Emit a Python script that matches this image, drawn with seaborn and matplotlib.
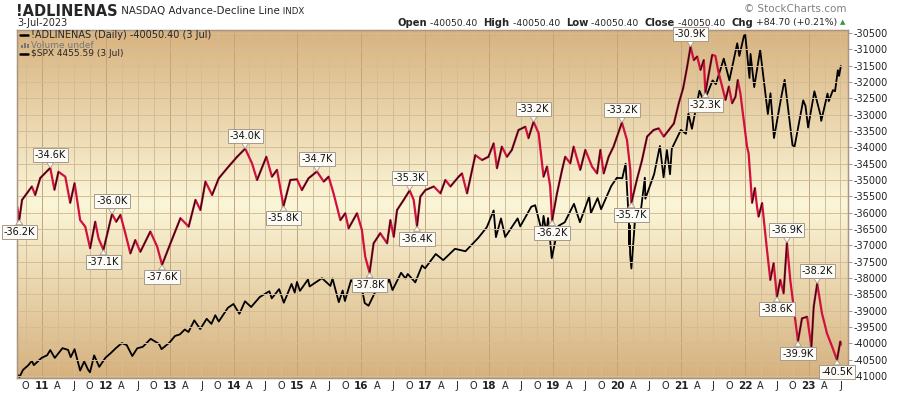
import numpy as np
import pandas as pd
import matplotlib
matplotlib.use('Agg')
import matplotlib.pyplot as plt
from matplotlib.colors import LinearSegmentedColormap
from matplotlib.lines import Line2D
from matplotlib.patches import Rectangle
import seaborn as sns

# ============================================================
# DATA
# ============================================================
adl_dates = [
    '2010-08-13', '2010-08-25', '2010-09-10', '2010-11-05', '2010-11-24', '2010-12-23',
    '2011-02-18', '2011-03-14', '2011-04-06', '2011-05-15', '2011-06-12', '2011-07-07',
    '2011-08-08', '2011-09-06', '2011-10-04', '2011-11-02', '2011-11-21', '2011-12-19',
    '2012-02-06', '2012-03-01', '2012-03-25', '2012-04-22', '2012-05-21', '2012-06-18',
    '2012-07-17', '2012-09-12', '2012-10-21', '2012-11-18', '2013-01-05', '2013-03-03',
    '2013-04-19', '2013-05-28', '2013-06-25', '2013-07-24', '2013-08-31', '2013-10-08',
    '2013-12-03', '2014-01-21', '2014-03-08', '2014-04-16', '2014-05-15', '2014-07-07',
    '2014-08-08', '2014-09-06', '2014-10-13', '2014-11-21', '2014-12-29', '2015-01-26',
    '2015-03-05', '2015-04-22', '2015-05-31', '2015-06-28', '2015-07-26', '2015-09-03',
    '2015-10-01', '2015-10-20', '2015-12-07', '2016-01-04', '2016-01-23', '2016-02-17',
    '2016-03-11', '2016-04-18', '2016-05-27', '2016-06-15', '2016-07-04', '2016-07-23',
    '2016-08-30', '2016-10-03', '2016-10-26', '2016-11-14', '2016-12-03', '2017-01-01',
    '2017-02-18', '2017-03-28', '2017-04-25', '2017-05-24', '2017-07-10', '2017-07-29',
    '2017-08-27', '2017-10-13', '2017-11-21', '2017-12-27', '2018-01-26', '2018-02-14',
    '2018-03-14', '2018-04-12', '2018-05-10', '2018-06-17', '2018-07-26', '2018-08-13',
    '2018-09-11', '2018-10-10', '2018-11-07', '2018-11-27', '2018-12-15', '2018-12-26',
    '2019-01-23', '2019-02-21', '2019-03-11', '2019-04-09', '2019-04-28', '2019-06-05',
    '2019-07-04', '2019-08-11', '2019-09-09', '2019-09-28', '2019-10-17', '2019-11-14',
    '2019-12-12', '2020-01-01', '2020-01-29', '2020-02-27', '2020-03-17', '2020-03-23',
    '2020-04-23', '2020-05-23', '2020-06-21', '2020-07-28', '2020-08-26', '2020-09-24',
    '2020-10-23', '2020-11-21', '2020-12-19', '2021-01-13', '2021-02-05', '2021-02-24',
    '2021-03-15', '2021-04-03', '2021-04-22', '2021-05-11', '2021-05-20', '2021-06-28',
    '2021-07-16', '2021-08-04', '2021-08-24', '2021-09-12', '2021-10-01', '2021-10-20',
    '2021-11-08', '2021-11-21', '2021-12-06', '2021-12-25', '2022-01-13', '2022-01-22',
    '2022-02-11', '2022-02-27', '2022-03-11', '2022-03-20', '2022-04-09', '2022-05-07',
    '2022-05-26', '2022-06-14', '2022-07-03', '2022-07-22', '2022-08-10', '2022-08-29',
    '2022-09-17', '2022-10-06', '2022-10-31', '2022-11-23', '2022-12-22', '2023-01-16',
    '2023-01-29', '2023-02-18', '2023-03-17', '2023-04-15', '2023-05-14', '2023-06-11',
    '2023-06-30', '2023-07-03',
]
adl_values = [
    -35820, -36220, -35610, -35200, -35460, -34940,
    -34630, -35300, -34750, -34900, -35700, -35100,
    -36230, -36430, -37090, -36280, -36790, -37140,
    -36040, -36280, -36070, -36630, -37250, -36840,
    -37200, -36580, -37040, -37600, -36940, -36170,
    -36430, -35610, -35920, -35050, -35460, -34950,
    -34590, -34290, -34040, -34490, -35000, -34290,
    -34900, -34690, -35800, -35000, -34980, -35310,
    -34950, -34740, -35050, -34900, -35410, -36230,
    -36020, -36480, -36020, -36530, -37350, -37840,
    -36940, -36630, -36940, -36230, -36740, -35920,
    -35610, -35320, -35610, -36420, -35510, -35310,
    -35200, -35410, -35000, -35200, -34900, -34800,
    -35410, -34240, -34390, -34290, -33880, -34640,
    -33980, -34290, -34080, -33470, -33370, -33720,
    -33220, -33570, -34900, -34590, -35200, -36240,
    -35410, -34690, -34290, -34490, -33980, -34690,
    -34080, -34590, -34800, -34080, -34800, -34290,
    -33980, -33670, -33240, -33780, -34690, -35700,
    -35000, -34390, -33670, -33470, -33420, -33670,
    -33470, -33270, -32650, -32190, -31530, -30920,
    -31330, -31220, -31630, -31330, -32330, -31170,
    -31200, -31730, -32140, -32550, -32140, -32650,
    -32450, -31940, -32350, -33160, -33980, -34180,
    -35700, -35250, -35820, -36120, -35710, -37140,
    -38060, -37550, -38580, -38060, -38470, -36920,
    -38060, -38880, -39940, -39240, -39190, -40100,
    -38880, -38170, -39080, -39700, -40100, -40510,
    -39950, -40050.40,
]

spx_dates = [
    '2010-08-13', '2010-08-26', '2010-09-15', '2010-10-15', '2010-11-05', '2010-11-16',
    '2010-12-31', '2011-01-31', '2011-02-18', '2011-03-16', '2011-04-29', '2011-05-31',
    '2011-06-15', '2011-07-07', '2011-08-08', '2011-08-31', '2011-09-22', '2011-10-03',
    '2011-10-27', '2011-11-25', '2011-12-30', '2012-01-31', '2012-02-29', '2012-04-02',
    '2012-04-30', '2012-06-01', '2012-06-29', '2012-07-31', '2012-09-14', '2012-10-31',
    '2012-11-15', '2012-12-31', '2013-01-31', '2013-02-28', '2013-03-28', '2013-04-18',
    '2013-05-21', '2013-06-24', '2013-07-31', '2013-08-27', '2013-09-18', '2013-10-08',
    '2013-11-29', '2013-12-31', '2014-02-03', '2014-03-07', '2014-04-11', '2014-05-30',
    '2014-07-24', '2014-08-07', '2014-09-18', '2014-10-15', '2014-11-28', '2014-12-16',
    '2014-12-29', '2015-01-15', '2015-03-02', '2015-03-11', '2015-05-21', '2015-07-08',
    '2015-07-20', '2015-08-25', '2015-09-16', '2015-09-29', '2015-11-03', '2015-12-14',
    '2015-12-29', '2016-01-20', '2016-02-11', '2016-04-20', '2016-05-19', '2016-06-08',
    '2016-06-27', '2016-08-15', '2016-09-09', '2016-09-22', '2016-11-04', '2016-12-13',
    '2016-12-30', '2017-03-01', '2017-04-13', '2017-06-19', '2017-08-18', '2017-10-31',
    '2017-12-18', '2018-01-26', '2018-02-08', '2018-03-09', '2018-04-02', '2018-06-12',
    '2018-06-27', '2018-08-29', '2018-09-20', '2018-10-29', '2018-11-07', '2018-11-23',
    '2018-12-03', '2018-12-24', '2019-01-31', '2019-03-08', '2019-04-30', '2019-06-03',
    '2019-07-26', '2019-08-05', '2019-09-12', '2019-10-02', '2019-11-29', '2019-12-31',
    '2020-01-31', '2020-02-19', '2020-03-09', '2020-03-12', '2020-03-13', '2020-03-16',
    '2020-03-23', '2020-04-17', '2020-05-13', '2020-06-08', '2020-06-11', '2020-07-31',
    '2020-09-02', '2020-09-23', '2020-10-12', '2020-10-30', '2020-11-09', '2020-12-31',
    '2021-01-29', '2021-02-12', '2021-03-04', '2021-04-16', '2021-05-12', '2021-06-30',
    '2021-07-19', '2021-08-31', '2021-09-02', '2021-10-04', '2021-11-18', '2021-11-30',
    '2021-12-27', '2022-01-03', '2022-01-27', '2022-02-02', '2022-02-23', '2022-03-29',
    '2022-05-12', '2022-05-27', '2022-06-16', '2022-07-29', '2022-08-16', '2022-09-30',
    '2022-10-12', '2022-11-30', '2022-12-13', '2022-12-28', '2023-02-02', '2023-03-09',
    '2023-03-13', '2023-04-18', '2023-04-25', '2023-05-19', '2023-05-31', '2023-06-16',
    '2023-06-23', '2023-07-03',
]
spx_values = [
    1079, 1047, 1125, 1176, 1225, 1178,
    1258, 1286, 1343, 1257, 1364, 1345,
    1265, 1353, 1119, 1219, 1129, 1099,
    1285, 1159, 1258, 1312, 1366, 1419,
    1398, 1278, 1362, 1379, 1466, 1412,
    1353, 1426, 1498, 1515, 1569, 1541,
    1669, 1573, 1686, 1630, 1725, 1656,
    1806, 1848, 1741, 1878, 1815, 1924,
    1988, 1910, 2011, 1862, 2068, 1973,
    2090, 1992, 2117, 2040, 2131, 2046,
    2128, 1868, 1996, 1881, 2110, 2022,
    2078, 1859, 1829, 2102, 2040, 2119,
    2001, 2190, 2128, 2177, 2085, 2271,
    2239, 2396, 2329, 2453, 2426, 2575,
    2690, 2873, 2581, 2786, 2582, 2786,
    2699, 2914, 2931, 2641, 2814, 2633,
    2790, 2351, 2704, 2743, 2946, 2744,
    3026, 2844, 3009, 2887, 3141, 3231,
    3226, 3386, 2747, 2481, 2711, 2386,
    2237, 2875, 2820, 3232, 3002, 3271,
    3580, 3237, 3535, 3270, 3550, 3756,
    3714, 3934, 3768, 4185, 4063, 4298,
    4258, 4523, 4537, 4300, 4705, 4567,
    4791, 4796, 4326, 4589, 4225, 4632,
    3930, 4158, 3667, 4130, 4305, 3586,
    3577, 4080, 4019, 3783, 4179, 3918,
    3855, 4154, 4071, 4192, 4180, 4410,
    4348, 4456,
]

# labelled turning points of the A-D line
peak_dates = ['2011-02-18', '2012-02-06', '2014-03-08', '2015-04-22', '2016-10-03',
              '2018-09-11', '2020-01-29', '2021-02-24', '2022-08-29', '2023-02-18']
trough_dates = ['2010-08-25', '2011-12-19', '2012-11-18', '2014-10-13', '2016-02-17',
                '2016-11-14', '2018-12-26', '2020-03-23', '2021-05-20', '2022-07-03',
                '2022-10-31', '2023-06-11']

adl_ticks = list(range(-41000, -30499, 500))
quarter_ticks = pd.date_range('2010-10-01', '2023-07-01', freq='QS-JAN')

# ============================================================
# STYLE
# ============================================================
W, H = 900, 396
RED = '#d2103c'
GRID = '#d3bc98'
GRID_YEAR = '#c2a47e'
EDGE = '#a89480'

sns.set_theme(style='white')
plt.rcParams['font.family'] = ['DejaVu Sans']


def px(x, y):
    """pixel (from top-left) -> figure fraction"""
    return x / W, 1 - y / H


fig = plt.figure(figsize=(W / 100, H / 100), dpi=100)
fig.patch.set_facecolor('white')

L, T, R, B = 17, 30, 848, 378
rect = [L / W, 1 - B / H, (R - L) / W, (B - T) / H]

# background gradient
bg = fig.add_axes(rect, zorder=0)
cmap = LinearSegmentedColormap.from_list(
    'sc', [(0.0, '#d8b37f'), (0.5, '#fbf6d8'), (1.0, '#d6b17d')])
bg.imshow(np.linspace(0, 1, 256).reshape(-1, 1), cmap=cmap, aspect='auto',
          extent=[0, 1, 0, 1])
bg.set_axis_off()

ax = fig.add_axes(rect, zorder=1)      # SPX overlay
ax.patch.set_visible(False)
ax2 = ax.twinx()                        # ADL (price scale on right)
ax2.patch.set_visible(False)

# SPX
spx = pd.DataFrame({'date': pd.to_datetime(spx_dates), 'value': spx_values})
sns.lineplot(data=spx, x='date', y='value', color='black', lw=1.3, ax=ax,
             estimator=None, sort=False)

# ADL: red line, with the rising moves drawn over it in black
adl = pd.DataFrame({'date': pd.to_datetime(adl_dates), 'value': adl_values})
sns.lineplot(data=adl, x='date', y='value', color=RED, lw=1.6, ax=ax2,
             estimator=None, sort=False)
rows = []
for i in range(len(adl) - 1):
    if adl.value[i + 1] > adl.value[i]:
        for j in (i, i + 1):
            rows.append({'date': adl.date[j], 'value': adl.value[j], 'seg': i})
up_df = pd.DataFrame(rows)
sns.lineplot(data=up_df, x='date', y='value', units='seg', estimator=None,
             color='#111111', lw=0.8, sort=False, ax=ax2)

# limits
x0, x1 = pd.Timestamp('2010-08-12'), pd.Timestamp('2023-08-13')
ax.set_xlim(x0, x1)
ax.set_ylim(1037, 4851)
ax2.set_ylim(-41064, -30408)

# grid
for d in quarter_ticks:
    ax.axvline(d, color=GRID_YEAR if d.month == 1 else GRID, lw=0.7, zorder=0)
for v in adl_ticks:
    ax2.axhline(v, color=GRID, lw=0.7, zorder=0)

# axes / ticks
ax.set_yticks([])
ax.set_xlabel('')
ax.set_ylabel('')
ax2.set_ylabel('')
ax.set_xticks(quarter_ticks)
xlabels = []
for d in quarter_ticks:
    if d.month == 1:
        xlabels.append(f'{d.year % 100:02d}')
    else:
        xlabels.append({4: 'A', 7: 'J', 10: 'O'}[d.month])
ax.set_xticklabels(xlabels)
for lbl, d in zip(ax.get_xticklabels(), quarter_ticks):
    lbl.set_fontweight('bold' if d.month == 1 else 'normal')
    lbl.set_fontsize(7.5 if d.month == 1 else 7)
ax.tick_params(axis='x', length=0, pad=2.5, colors='#222222')

ax2.set_yticks(adl_ticks)
ax2.set_yticklabels([str(v) for v in adl_ticks])
ax2.tick_params(axis='y', length=3, width=0.7, color=EDGE, pad=1,
                labelsize=7, labelcolor='#222222')
for a in (ax, ax2):
    for s in a.spines.values():
        s.set_color(EDGE)
        s.set_linewidth(0.9)

# turning-point labels
box = dict(boxstyle='square,pad=0.2', fc='#fcfbf6', ec='#a89a8a', lw=0.7)
arrow = dict(arrowstyle='wedge,tail_width=0.7,shrink_factor=0.5', fc='#fcfbf6',
             ec='#a89a8a', lw=0.6, shrinkA=0, shrinkB=0)
lookup = dict(zip(adl.date, adl.value))
for dates, dy in ((peak_dates, 9.0), (trough_dates, -8.8)):
    for ds in dates:
        d = pd.Timestamp(ds)
        v = lookup[d]
        ax2.annotate(f'{v / 1000:.1f}K', xy=(d, v), xytext=(0, dy),
                     textcoords='offset points', ha='center', va='center',
                     fontsize=7, color='#111111', bbox=box, arrowprops=arrow,
                     annotation_clip=False, zorder=10)

# ============================================================
# HEADER TEXT
# ============================================================
renderer = fig.canvas.get_renderer()


def run_text(x, y, pieces, align='left'):
    """write text pieces one after another; x is the left (or right) pixel edge"""
    texts, widths = [], []
    for s, kw in pieces:
        t = fig.text(0, 0, s, va='center', ha='left', **kw)
        texts.append(t)
        widths.append(t.get_window_extent(renderer=renderer).width)
    if align == 'right':
        x -= sum(widths)
    for t, w in zip(texts, widths):
        t.set_position(px(x, y))
        x += w


run_text(16, 11, [('!ADLINENAS', dict(fontsize=10.5, fontweight='bold')),
                  (' NASDAQ Advance-Decline Line', dict(fontsize=7.4)),
                  (' INDX', dict(fontsize=6.2))])
fig.text(*px(17, 23), '3-Jul-2023', fontsize=7, va='center')

run_text(837, 23, [('Open', dict(fontsize=7.2, fontweight='bold')),
                   (' -40050.40  ', dict(fontsize=6.7)),
                   ('High', dict(fontsize=7.2, fontweight='bold')),
                   (' -40050.40  ', dict(fontsize=6.7)),
                   ('Low', dict(fontsize=7.2, fontweight='bold')),
                   (' -40050.40  ', dict(fontsize=6.7)),
                   ('Close', dict(fontsize=7.2, fontweight='bold')),
                   (' -40050.40  ', dict(fontsize=6.7)),
                   ('Chg', dict(fontsize=7.2, fontweight='bold')),
                   (' +84.70 (+0.21%)', dict(fontsize=6.7))], align='right')
fig.text(*px(843, 22), '\u25b2', fontsize=5, color='#2e9a3a', ha='center', va='center')
fig.text(*px(847, 9), '\u00a9 StockCharts.com', fontsize=7.5, color='#808080',
         ha='right', va='center')

# in-chart legend
for yy in (35, 54):
    fig.add_artist(Line2D([20 / W, 28 / W], [1 - yy / H] * 2, color='black', lw=1.8))
for i, h in enumerate((3, 5, 4)):
    fig.add_artist(Rectangle(((21 + i * 3) / W, 1 - 48 / H), 2 / W, h / H,
                             color='#777777', lw=0))
fig.text(*px(31, 35), '!ADLINENAS (Daily) -40050.40 (3 Jul)', fontsize=7, va='center')
fig.text(*px(31, 45), 'Volume undef', fontsize=6.5, color='#777777', va='center')
fig.text(*px(31, 54), '$SPX 4455.59 (3 Jul)', fontsize=6.5, va='center')

fig.savefig('out.png', dpi=100)
